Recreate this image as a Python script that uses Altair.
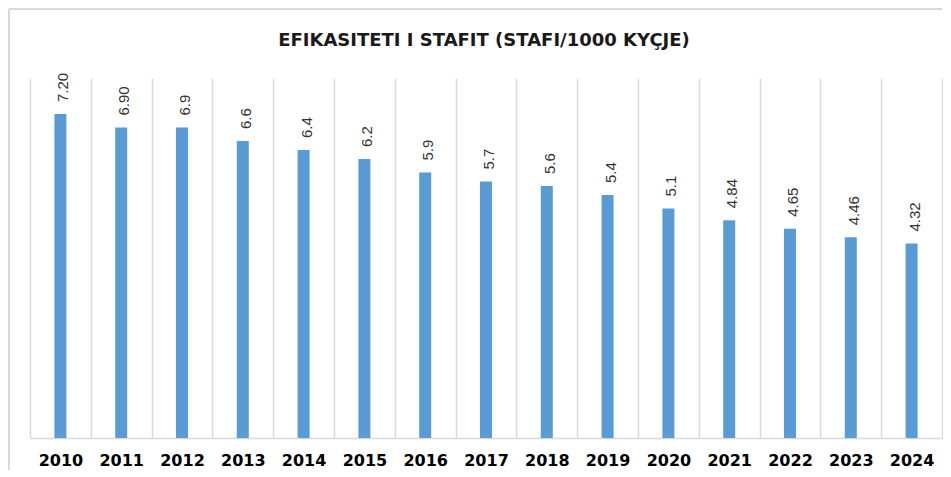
import altair as alt
import pandas as pd

title_text = "EFIKASITETI I STAFIT (STAFI/1000 KYÇJE)"
years = ["2010", "2011", "2012", "2013", "2014", "2015", "2016", "2017",
         "2018", "2019", "2020", "2021", "2022", "2023", "2024"]
values = [7.20, 6.90, 6.9, 6.6, 6.4, 6.2, 5.9, 5.7, 5.6, 5.4, 5.1, 4.84, 4.65, 4.46, 4.32]
value_labels = ["7.20", "6.90", "6.9", "6.6", "6.4", "6.2", "5.9", "5.7", "5.6",
                "5.4", "5.1", "4.84", "4.65", "4.46", "4.32"]

df = pd.DataFrame({"year": years, "value": values, "label": value_labels})

W, H = 912, 360

x_enc = alt.X("year:N", sort=years, title=None,
              scale=alt.Scale(paddingInner=0, paddingOuter=0),
              axis=alt.Axis(labelAngle=0, ticks=False, grid=True, tickBand="extent",
                            gridColor="#d9d9d9", gridWidth=1.5,
                            domainColor="#d9d9d9", domainWidth=1.5,
                            labelFont="DejaVu Sans", labelFontWeight="bold",
                            labelFontSize=16, labelColor="#000000", labelPadding=14))
y_enc = alt.Y("value:Q", scale=alt.Scale(domain=[0, 8]), axis=None)

base = alt.Chart(df)
bars = base.mark_bar(size=12, color="#5b9bd5").encode(x=x_enc, y=y_enc)
texts = base.mark_text(angle=270, align="left", baseline="middle", dx=12, dy=3,
                       font="Liberation Sans", fontSize=15, color="#333333").encode(
    x=alt.X("year:N", sort=years), y="value:Q", text="label:N")

one = pd.DataFrame({"t": [title_text]})
border_top = alt.Chart(one).mark_rule(color="#d9d9d9", strokeWidth=2).encode(
    x=alt.value(-21), x2=alt.value(W), y=alt.value(-69))
border_left = alt.Chart(one).mark_rule(color="#d9d9d9", strokeWidth=2).encode(
    x=alt.value(-21), y=alt.value(-69), y2=alt.value(392))
title = alt.Chart(one).mark_text(font="DejaVu Sans", fontSize=18, fontWeight="bold",
                                 color="#1a1a1a", align="center",
                                 baseline="alphabetic").encode(
    x=alt.value(W / 2 - 2), y=alt.value(-32), text="t:N")

chart = alt.layer(border_top, border_left, title, bars, texts).properties(
    width=W, height=H, padding=0
).configure_view(stroke=None)

chart.save("out.html", embed_options={"renderer": "svg", "actions": False})
